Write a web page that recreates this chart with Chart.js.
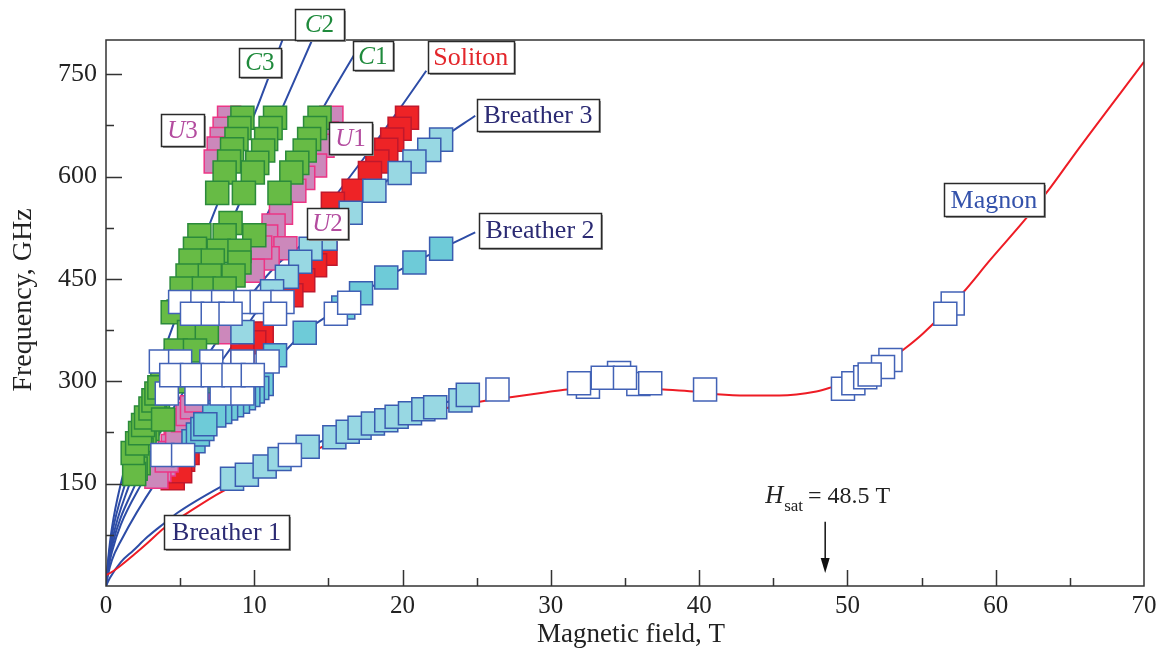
<!DOCTYPE html>
<html>
<head>
<meta charset="utf-8">
<script src="https://cdn.jsdelivr.net/npm/chart.js@4.4.1/dist/chart.umd.min.js"></script>
<style>
  html, body { margin: 0; padding: 0; background: #fff; }
  #wrap { width: 1163px; height: 650px; }
</style>
</head>
<body>
<div id="wrap"><canvas id="chart" width="1163" height="650"></canvas></div>
<script>
// Axis ticks
const xTickLabels = [0, 10, 20, 30, 40, 50, 60, 70];
const yTickLabels = [150, 300, 450, 600, 750];

// Theory curves (field in T, frequency in GHz)
const magnonT = [0, 0.5, 1, 1.84, 2.8, 3.93, 5, 7.8, 14.4, 19, 25.2, 27.4, 29.7, 31.1, 33.5, 35.5, 37.6, 39.6, 41.2, 43.2, 45.4, 47.9, 48.9, 50.4, 52.4, 53.7, 55.1, 57.8, 59.6, 62.1, 63.7, 65.5, 70];
const magnonF = [16, 22, 30, 45, 63, 85, 100, 138, 202, 240, 270, 277, 284, 288, 291, 291, 288, 285, 281, 279, 279, 285, 291, 302, 325, 345, 370, 430, 477, 540, 584, 638, 768];

const b1T = [0, 0.27, 1, 1.84, 2.8, 3.93, 4.8, 7.7, 10.7, 14.4, 18.9, 22, 24.5];
const b1F = [0, 12, 35, 52, 72, 92, 107, 145, 178, 211, 246, 264, 278];

const b2T = [0, 0.15, 0.4, 1, 3.3, 4, 6.8, 9.9, 12.2, 13.3, 16.3, 18.9, 20.8, 22.6, 24.9];
const b2F = [0, 18, 38, 66, 150, 170, 238, 300, 347, 371, 414, 452, 474, 494, 518];

const b3T = [0, 0.15, 0.4, 1, 2.4, 4, 6, 9.2, 11.2, 13.1, 14.8, 16.5, 18.1, 19.8, 20.8, 22.6, 24.9];
const b3F = [0, 25, 50, 90, 150, 210, 275, 372, 433, 474, 510, 546, 579, 608, 625, 655, 689];

const solT = [0, 0.15, 0.4, 2, 4, 6, 8.5, 11.5, 13.5, 15.1, 17.5, 19.8, 21.6];
const solF = [0, 28, 58, 150, 240, 310, 390, 470, 507, 560, 630, 699, 755];

const c1T = [0, 0.15, 0.4, 1.6, 3, 5, 6.7, 8.5, 10.9, 14.6, 17.3];
const c1F = [0, 30, 65, 150, 225, 305, 372, 448, 546, 699, 799];

const c2T = [0, 0.15, 0.4, 1.3, 2.5, 4, 5.5, 8.3, 11.9, 13.9];
const c2F = [0, 35, 75, 150, 220, 295, 370, 525, 701, 800];

const c3T = [0, 0.15, 0.4, 1, 2, 3.5, 5, 6.9, 8.5, 10.1, 11.9];
const c3F = [0, 40, 85, 150, 225, 320, 410, 525, 612, 696, 800];

// Measured points
const greenT = [9.2, 9.0, 8.8, 8.5, 8.3, 8.0, 7.5,
  11.4, 11.1, 10.8, 10.6, 10.2, 9.9, 9.3,
  14.4, 14.1, 13.7, 13.4, 12.9, 12.5, 11.7,
  8.4, 6.3, 8.0, 10.0, 6.0, 7.6, 9.0, 5.7, 7.2, 9.0, 5.5, 7.0, 8.6, 5.1, 6.6, 8.0,
  4.9, 4.5, 5.6, 6.8, 4.7, 6.0, 4.2, 5.4, 6.5,
  4.0, 3.8, 3.7, 3.5, 3.3, 3.1, 2.9, 2.8, 2.6, 2.4, 2.2, 2.0,
  1.9, 1.8, 2.1, 2.3, 2.5, 2.7, 3.0, 3.2, 3.4, 3.6, 3.85];
const greenF = [686, 671, 655, 640, 622, 606, 576,
  686, 671, 655, 638, 620, 606, 576,
  686, 671, 655, 638, 620, 606, 576,
  532, 514, 514, 514, 494, 491, 491, 477, 477, 474, 455, 455, 455, 436, 436, 436,
  402, 401, 372, 372, 345, 345, 300, 300, 300,
  302, 296, 287, 277, 266, 254, 242, 230, 215, 200, 180, 172,
  164, 195, 209, 224, 236, 247, 260, 272, 282, 291, 244];

const pinkT = [8.3, 8.0, 7.8, 7.6, 7.4,
  15.2, 14.9, 14.6, 14.1, 13.3, 12.7, 11.8, 11.3, 10.8, 12.1, 10.9, 10.4, 9.9,
  8.1, 6.6, 6.4, 6.2, 5.9, 5.6, 5.3, 5.0, 4.7, 4.5, 4.3, 3.9, 3.6,
  3.4, 4.1, 4.8, 5.2, 5.5, 5.8, 6.1];
const pinkF = [686, 670, 655, 641, 622,
  686, 663, 645, 616, 598, 579, 547, 528, 512, 495, 480, 496, 462,
  372, 284, 276, 266, 258, 248, 236, 228, 212, 205, 195, 178, 170,
  160, 184, 218, 243, 252, 262, 272];

const redT = [20.3, 19.8, 19.3, 18.9, 18.3, 17.8, 16.7, 15.3, 14.8, 14.1, 13.3, 12.5, 10.5, 10.0, 9.2, 5.5, 5.2, 4.8, 4.5, 5.0];
const redF = [686, 670, 654, 639, 622, 605, 579, 560, 487, 470, 448, 426, 370, 357, 345, 195, 185, 175, 158, 168];

const lightT = [8.5, 9.5, 10.7, 11.7, 13.6, 15.4, 16.3, 17.1, 18.0, 18.9, 19.6, 20.5, 21.4, 22.2, 23.9, 24.4,
  22.6, 21.8, 20.8, 19.8, 18.1, 16.5, 14.8, 13.8, 13.1, 12.2, 11.2, 9.2];
const lightF = [157, 163, 175, 186, 204, 218, 226, 232, 238, 243, 248, 253, 259, 262, 272, 280,
  654, 639, 622, 605, 579, 547, 509, 494, 475, 453, 432, 372];

const cyanT = [10.5, 10.2, 9.9, 9.6, 9.3, 8.9, 8.5, 8.1, 7.7, 7.3, 5.9, 6.2, 6.5, 6.7, 11.4, 13.4, 16.0, 17.2, 18.9, 20.8, 22.6];
const cyanF = [296, 290, 285, 280, 275, 270, 265, 260, 255, 250, 212, 222, 230, 237, 338, 371, 408, 429, 452, 474, 494];

const openT = [4.1, 6.1, 7.8, 9.2,
  3.7, 5.0, 7.1, 9.2, 10.9,
  4.4, 5.8, 7.2, 8.6, 9.9,
  5.0, 6.5, 7.9, 9.4, 10.5, 11.9,
  5.8, 7.2, 8.4, 11.4,
  3.8, 5.2, 12.4, 15.5, 16.4, 26.4,
  32.5, 31.9, 34.6, 33.5, 35.9, 35.0, 36.7, 40.4,
  57.1, 56.6, 52.9, 52.4, 49.7, 50.4, 51.2, 51.5];
const openF = [282, 282, 282, 282,
  329, 329, 329, 329, 329,
  309, 309, 309, 309, 309,
  416, 416, 416, 416, 416, 416,
  399, 399, 399, 399,
  192, 192, 192, 399, 415, 288,
  292, 297, 312, 305, 296, 305, 297, 288,
  414, 399, 331, 321, 289, 297, 306, 310];

const serif = "'Liberation Serif', 'Times New Roman', serif";
const pts = (xs, ys) => xs.map((x, i) => ({ x: x, y: ys[i] }));

function curve(xs, ys, color, order) {
  return {
    data: pts(xs, ys),
    showLine: true,
    borderColor: color,
    borderWidth: 2,
    pointRadius: 0,
    cubicInterpolationMode: 'monotone',
    order: order
  };
}

function squares(xs, ys, fill, edge, order) {
  return {
    data: pts(xs, ys),
    showLine: false,
    pointStyle: 'rect',
    pointRadius: 16.3,
    backgroundColor: fill,
    borderColor: edge,
    borderWidth: 1.5,
    order: order
  };
}

const lineBlue = '#2d4ca6';

// Text boxes and annotation drawn on top
const labels = [
  { parts: [['C', true], ['2', false]], color: '#1f8a3c', T: 14.40, f: 822.7, w: 49, h: 31 },
  { parts: [['C', true], ['3', false]], color: '#1f8a3c', T: 10.38, f: 767, w: 42, h: 29 },
  { parts: [['C', true], ['1', false]], color: '#1f8a3c', T: 18.0, f: 776.6, w: 40, h: 29 },
  { parts: [['Soliton', false]], color: '#e3262b', T: 24.6, f: 775, w: 86, h: 32 },
  { parts: [['Breather 3', false]], color: '#2b2a73', T: 29.13, f: 690, w: 122, h: 32 },
  { parts: [['Breather 2', false]], color: '#2b2a73', T: 29.27, f: 521, w: 122, h: 35 },
  { parts: [['U', true], ['3', false]], color: '#b34c9f', T: 5.16, f: 668, w: 43, h: 32 },
  { parts: [['U', true], ['1', false]], color: '#b34c9f', T: 16.49, f: 656, w: 43, h: 32 },
  { parts: [['U', true], ['2', false]], color: '#b34c9f', T: 14.94, f: 531, w: 41, h: 31 },
  { parts: [['Breather 1', false]], color: '#2b2a73', T: 8.13, f: 79, w: 125, h: 34 },
  { parts: [['Magnon', false]], color: '#3452ab', T: 59.88, f: 566, w: 100, h: 33 }
];

const decorPlugin = {
  id: 'decor',
  afterDraw(chart) {
    const { ctx, chartArea: a, scales: { x, y } } = chart;
    ctx.save();

    // frame and inward ticks
    ctx.strokeStyle = '#333';
    ctx.lineWidth = 1.5;
    ctx.strokeRect(a.left, a.top, a.right - a.left, a.bottom - a.top);
    ctx.beginPath();
    x.ticks.forEach(t => {
      if (t.value <= 0 || t.value >= 70) return;
      const px = Math.round(x.getPixelForValue(t.value)) + 0.5;
      const len = t.value % 10 === 0 ? 16 : 8;
      ctx.moveTo(px, a.bottom);
      ctx.lineTo(px, a.bottom - len);
    });
    y.ticks.forEach(t => {
      if (t.value <= 0 || t.value >= 800) return;
      const py = Math.round(y.getPixelForValue(t.value)) + 0.5;
      const len = t.value % 150 === 0 ? 16 : 8;
      ctx.moveTo(a.left, py);
      ctx.lineTo(a.left + len, py);
    });
    ctx.stroke();

    // axis titles
    ctx.fillStyle = '#222';
    ctx.font = '27px ' + serif;
    ctx.textAlign = 'center';
    ctx.textBaseline = 'alphabetic';
    ctx.fillText('Magnetic field, T', (a.left + a.right) / 2 + 6, 642);
    ctx.save();
    ctx.translate(31, 300);
    ctx.rotate(-Math.PI / 2);
    ctx.font = '28px ' + serif;
    ctx.fillText('Frequency, GHz', 0, 0);
    ctx.restore();

    // label boxes
    labels.forEach(lb => {
      const cx = x.getPixelForValue(lb.T);
      const cy = y.getPixelForValue(lb.f);
      const left = Math.round(cx - lb.w / 2) + 0.5;
      const top = Math.round(cy - lb.h / 2) + 0.5;
      ctx.fillStyle = '#999';
      ctx.fillRect(left + 1.5, top + 1.5, lb.w, lb.h);
      ctx.fillStyle = '#fff';
      ctx.fillRect(left, top, lb.w, lb.h);
      ctx.strokeStyle = '#2a2a2a';
      ctx.lineWidth = 1.5;
      ctx.strokeRect(left, top, lb.w, lb.h);

      const size = lb.parts.length > 1 ? 25 : 26;
      let total = 0;
      lb.parts.forEach(p => {
        ctx.font = (p[1] ? 'italic ' : '') + size + 'px ' + serif;
        total += ctx.measureText(p[0]).width;
      });
      let tx = cx - total / 2;
      ctx.fillStyle = lb.color;
      ctx.textAlign = 'left';
      ctx.textBaseline = 'middle';
      lb.parts.forEach(p => {
        ctx.font = (p[1] ? 'italic ' : '') + size + 'px ' + serif;
        ctx.fillText(p[0], tx, cy + 1);
        tx += ctx.measureText(p[0]).width;
      });
    });

    // saturation field annotation
    const hx = x.getPixelForValue(48.5);
    const base = y.getPixelForValue(121);
    ctx.fillStyle = '#222';
    ctx.textAlign = 'left';
    ctx.textBaseline = 'alphabetic';
    let tx = x.getPixelForValue(44.45);
    ctx.font = 'italic 25px ' + serif;
    ctx.fillText('H', tx, base);
    tx += ctx.measureText('H').width + 1;
    ctx.font = '17px ' + serif;
    ctx.fillText('sat', tx, base + 8);
    tx += ctx.measureText('sat').width + 5;
    ctx.font = '24px ' + serif;
    ctx.fillText('= 48.5 T', tx, base);

    const y0 = y.getPixelForValue(94);
    const y1 = y.getPixelForValue(19);
    ctx.strokeStyle = '#111';
    ctx.lineWidth = 1.5;
    ctx.beginPath();
    ctx.moveTo(hx, y0);
    ctx.lineTo(hx, y1 - 10);
    ctx.stroke();
    ctx.fillStyle = '#111';
    ctx.beginPath();
    ctx.moveTo(hx - 4.5, y1 - 15);
    ctx.lineTo(hx + 4.5, y1 - 15);
    ctx.lineTo(hx, y1);
    ctx.closePath();
    ctx.fill();

    ctx.restore();
  }
};

const ctx = document.getElementById('chart').getContext('2d');
new Chart(ctx, {
  type: 'scatter',
  data: {
    datasets: [
      squares(openT, openF, '#ffffff', '#4262b6', 1),
      squares(greenT, greenF, '#67bb45', '#2b8a3b', 2),
      squares(lightT, lightF, '#98d8e3', '#3a5cb0', 3),
      squares(cyanT, cyanF, '#6ecbd8', '#3a5cb0', 4),
      squares(pinkT, pinkF, '#cc88bb', '#ec3585', 5),
      squares(redT, redF, '#ee2326', '#c0182c', 6),
      curve(magnonT, magnonF, '#ee1c25', 8),
      curve(b1T, b1F, lineBlue, 9),
      curve(b2T, b2F, lineBlue, 9),
      curve(b3T, b3F, lineBlue, 9),
      curve(solT, solF, lineBlue, 9),
      curve(c1T, c1F, lineBlue, 9),
      curve(c2T, c2F, lineBlue, 9),
      curve(c3T, c3F, lineBlue, 9)
    ]
  },
  options: {
    responsive: false,
    animation: false,
    layout: { padding: { top: 40, right: 19, left: 0, bottom: 0 } },
    plugins: {
      legend: { display: false },
      tooltip: { enabled: false }
    },
    scales: {
      x: {
        type: 'linear',
        min: 0,
        max: 70,
        grid: { display: false, drawTicks: false },
        border: { display: false },
        afterFit(scale) { scale.height = 64; },
        ticks: {
          stepSize: 5,
          autoSkip: false,
          maxRotation: 0,
          padding: 5,
          color: '#222',
          font: { family: serif, size: 25 },
          callback: v => (xTickLabels.includes(v) ? String(v) : '')
        }
      },
      y: {
        type: 'linear',
        min: 0,
        max: 800,
        grid: { display: false, drawTicks: false },
        border: { display: false },
        afterFit(scale) { scale.width = 106; },
        ticks: {
          stepSize: 75,
          autoSkip: false,
          padding: 9,
          color: '#222',
          font: { family: serif, size: 26 },
          callback: v => (yTickLabels.includes(v) ? String(v) : '')
        }
      }
    }
  },
  plugins: [decorPlugin]
});
</script>
</body>
</html>
